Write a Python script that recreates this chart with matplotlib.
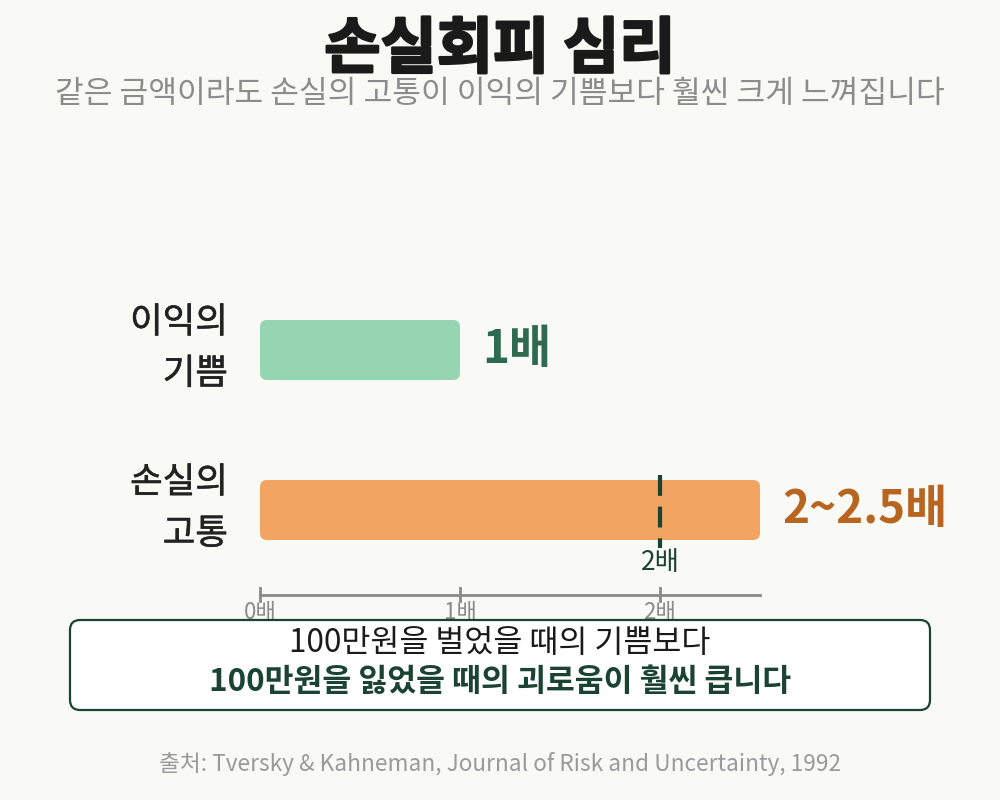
import matplotlib.pyplot as plt
import matplotlib.patheffects as pe
from matplotlib.patches import FancyBboxPatch

plt.rcParams['font.family'] = ['Noto Sans CJK KR', 'DejaVu Sans']

categories = ['이익의\n기쁨', '손실의\n고통']
values = [1.0, 2.5]
value_labels = ['1배', '2~2.5배']
ref_value = 2.0
ref_label = '2배'
ticks = [0, 1, 2]
tick_labels = ['0배', '1배', '2배']

bar_colors = ['#95d5b2', '#f2a462']
label_colors = ['#2d6a4f', '#b8661f']
dark = '#1b4332'
bg = '#f9f9f6'

fig = plt.figure(figsize=(10, 8), dpi=100, facecolor=bg)

# axes: x=0 at px 260, x=2.5 at px 760 ; y rows 160px apart
ax = fig.add_axes([0.26, (800 - 600) / 800, 0.5, 310 / 800])
ax.set_xlim(0, 2.5)
ax.set_ylim(1.5625, -0.375)
ax.axis('off')
ax.set_facecolor('none')

ypos = list(range(len(categories)))
bars = ax.barh(ypos, values, height=0.375, color=bar_colors)
for b, c in zip(bars, bar_colors):
    x0, y0 = b.get_xy()
    p = FancyBboxPatch((x0, y0), b.get_width(), b.get_height(),
                       boxstyle='round,pad=0,rounding_size=0.035',
                       mutation_aspect=1.25, fc=c, ec='none', zorder=2)
    ax.add_patch(p)
    b.remove()

for y, cat in zip(ypos, categories):
    ax.text(-0.16, y - 0.01, cat, ha='right', va='center', fontsize=25.5,
            color='#222222', linespacing=1.55,
            path_effects=[pe.withStroke(linewidth=0.4, foreground='#222222')])

for y, v, lab, col in zip(ypos, values, value_labels, label_colors):
    ax.text(v + 0.11, y, lab, ha='left', va='center', fontsize=33,
            fontweight='bold', color=col)

# reference line
ax.plot([ref_value, ref_value], [0.78, 1.24], color=dark, lw=3,
        dashes=(5, 2.6), zorder=3, solid_capstyle='butt')
ax.text(ref_value, 1.33, ref_label, ha='center', va='center', fontsize=19,
        color=dark)

# axis line
axis_y = 1.53
ax.plot([0, 2.5], [axis_y, axis_y], color='#8a8a8a', lw=2, clip_on=False)
for t, tl in zip(ticks, tick_labels):
    ax.plot([t, t], [axis_y - 0.04, axis_y + 0.04], color='#8a8a8a', lw=2,
            clip_on=False)
    ax.text(t, axis_y + 0.11, tl, ha='center', va='center', fontsize=16,
            color='#8a8a8a', clip_on=False)

# titles
fig.text(0.5, 1 - 50 / 800, '손실회피 심리', ha='center', va='center',
         fontsize=44, fontweight='black', color='#1a1a1a',
         path_effects=[pe.withStroke(linewidth=1.8, foreground='#1a1a1a')])
fig.text(0.5, 1 - 94 / 800, '같은 금액이라도 손실의 고통이 이익의 기쁨보다 훨씬 크게 느껴집니다',
         ha='center', va='center', fontsize=22.5, color='#8c8c8c')

# message box
box = FancyBboxPatch((0.7, 0.9), 8.6, 0.9, boxstyle='round,pad=0,rounding_size=0.1',
                     transform=fig.dpi_scale_trans, fc='white', ec=dark, lw=1.6,
                     zorder=5)
fig.patches.append(box)
fig.text(0.5, 1 - 643 / 800, '100만원을 벌었을 때의 기쁨보다', ha='center',
         va='center', fontsize=22.7, color='#1a1a1a', zorder=6)
fig.text(0.5, 1 - 682 / 800, '100만원을 잃었을 때의 괴로움이 훨씬 큽니다', ha='center',
         va='center', fontsize=22.6, fontweight='bold', color=dark, zorder=6)

fig.text(0.5, 1 - 764 / 800,
         '출처: Tversky & Kahneman, Journal of Risk and Uncertainty, 1992',
         ha='center', va='center', fontsize=16.3, color='#9a9a9a')

fig.savefig('out.png', dpi=100, facecolor=bg)
